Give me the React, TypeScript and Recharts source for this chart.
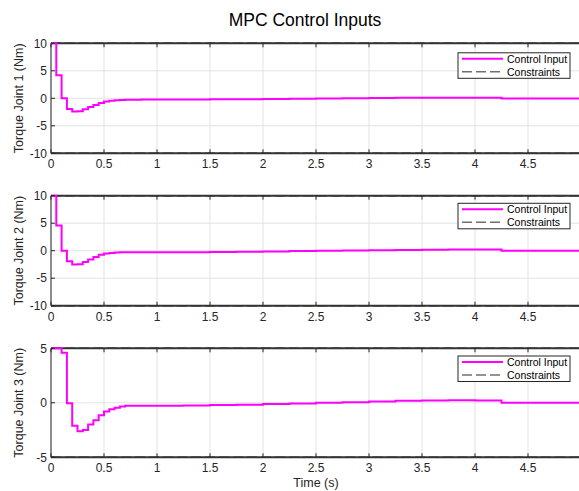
import React from 'react';
import { LineChart, Line, XAxis, YAxis, CartesianGrid, ReferenceLine } from 'recharts';

const TIME = [0, 0.05, 0.1, 0.15, 0.2, 0.25, 0.3, 0.35, 0.4, 0.45, 0.5, 0.55, 0.6, 0.65, 0.7, 0.75, 0.8, 0.85, 0.9, 0.95, 1.0, 1.25, 1.5, 1.75, 2.0, 2.25, 2.5, 2.75, 3.0, 3.25, 3.5, 3.75, 4.0, 4.25, 5.0];
const JOINT1 = [10, 4.2, 0, -1.95, -2.4, -2.35, -2.0, -1.6, -1.2, -0.85, -0.6, -0.45, -0.35, -0.3, -0.27, -0.25, -0.25, -0.24, -0.24, -0.23, -0.22, -0.2, -0.18, -0.15, -0.12, -0.08, -0.04, 0.0, 0.05, 0.09, 0.11, 0.12, 0.12, -0.02, -0.02];
const JOINT2 = [10, 4.6, 0, -1.9, -2.5, -2.45, -2.05, -1.6, -1.15, -0.75, -0.5, -0.4, -0.33, -0.3, -0.3, -0.3, -0.3, -0.3, -0.3, -0.3, -0.3, -0.27, -0.23, -0.18, -0.13, -0.07, -0.02, 0.04, 0.1, 0.15, 0.19, 0.21, 0.21, 0.0, 0.0];
const JOINT3 = [5, 5, 4.6, -0.05, -2.1, -2.6, -2.5, -2.0, -1.6, -1.15, -0.8, -0.6, -0.45, -0.33, -0.28, -0.26, -0.26, -0.26, -0.26, -0.26, -0.26, -0.24, -0.21, -0.17, -0.12, -0.06, 0.0, 0.06, 0.12, 0.18, 0.22, 0.23, 0.21, 0.0, 0.0];

const X_TICKS = [0, 0.5, 1, 1.5, 2, 2.5, 3, 3.5, 4, 4.5];
const Y_TICKS_10 = [-10, -5, 0, 5, 10];
const Y_TICKS_5 = [-5, 0, 5];
const LIMITS = [10, 10, 5];
const Y_LABELS = ['Torque Joint 1 (Nm)', 'Torque Joint 2 (Nm)', 'Torque Joint 3 (Nm)'];
const TITLE = 'MPC Control Inputs';
const X_LABEL = 'Time (s)';
const LEGEND_ITEMS = ['Control Input', 'Constraints'];

const FONT = '"Liberation Sans", Arial, Helvetica, sans-serif';
const AXIS = '#262626';
const BORDER = '#333333';
const W = 581;
const H = 491;

const PANELS = [
  { values: JOINT1, ticks: Y_TICKS_10, limit: LIMITS[0], top: 43.3, bottom: 153.3, legendTop: 52.8 },
  { values: JOINT2, ticks: Y_TICKS_10, limit: LIMITS[1], top: 195.7, bottom: 305.7, legendTop: 203.3 },
  { values: JOINT3, ticks: Y_TICKS_5, limit: LIMITS[2], top: 348.3, bottom: 457.3, legendTop: 356 },
];

function Panel({ values, ticks, limit, top, bottom }: any) {
  const data = TIME.map((t, i) => ({ t, u: values[i] }));
  const xAxisH = 30;
  const topAxisH = 1;
  return (
    <div style={{ position: 'absolute', left: 0, top: 0, width: W, height: H }}>
      <LineChart
        width={W}
        height={H}
        data={data}
        margin={{ top: top - topAxisH, right: 0, left: 0, bottom: H - bottom - xAxisH }}
      >
        <CartesianGrid stroke="#e3e3e3" strokeWidth={1} />
        <ReferenceLine y={limit} stroke={BORDER} strokeWidth={2} ifOverflow="visible" />
        <ReferenceLine y={limit} stroke={BORDER} strokeDasharray="10 4" strokeWidth={1.5} ifOverflow="visible" />
        <ReferenceLine y={-limit} stroke={BORDER} strokeDasharray="10 4" strokeWidth={1.5} ifOverflow="visible" />
        <XAxis
          dataKey="t"
          type="number"
          domain={[0, 5]}
          ticks={X_TICKS}
          height={xAxisH}
          tickSize={-4}
          tickMargin={10.5}
          axisLine={{ stroke: BORDER, strokeWidth: 2 }}
          tickLine={{ stroke: AXIS }}
          tick={{ fontSize: 12, fill: AXIS, fontFamily: FONT }}
          interval={0}
        />
        <XAxis
          xAxisId="top"
          orientation="top"
          dataKey="t"
          type="number"
          domain={[0, 5]}
          ticks={X_TICKS}
          height={topAxisH}
          tickSize={-4}
          tickFormatter={() => ''}
          axisLine={false}
          tickLine={{ stroke: AXIS }}
          interval={0}
        />
        <YAxis
          type="number"
          domain={[-limit, limit]}
          ticks={ticks}
          width={51}
          tickSize={-4}
          tickMargin={8}
          axisLine={{ stroke: AXIS, strokeWidth: 1 }}
          tickLine={{ stroke: AXIS }}
          tick={{ fontSize: 12, fill: AXIS, fontFamily: FONT }}
          interval={0}
        />
        <Line
          type="stepAfter"
          dataKey="u"
          stroke="#ff00ff"
          strokeWidth={2}
          dot={false}
          activeDot={false}
          isAnimationActive={false}
        />
      </LineChart>
    </div>
  );
}

function LegendBox({ y }: { y: number }) {
  const x = 458;
  return (
    <g>
      <rect x={x} y={y} width={112} height={25.5} fill="#ffffff" stroke={AXIS} strokeWidth={1} />
      <line x1={x + 4} x2={x + 45} y1={y + 6} y2={y + 6} stroke="#ff00ff" strokeWidth={2} />
      <text x={x + 49} y={y + 9.8} fontSize={10.5} fill="#000" fontFamily={FONT}>{LEGEND_ITEMS[0]}</text>
      <line x1={x + 4} x2={x + 45} y1={y + 19} y2={y + 19} stroke="#707070" strokeWidth={1.5} strokeDasharray="10 4" />
      <text x={x + 49} y={y + 22.8} fontSize={10.5} fill="#000" fontFamily={FONT}>{LEGEND_ITEMS[1]}</text>
    </g>
  );
}

export default function App() {
  return (
    <div style={{ position: 'absolute', left: 0, top: 0, width: 579, height: 491, overflow: 'hidden', background: '#ffffff' }}>
      {PANELS.map((p, i) => (
        <Panel key={i} {...p} />
      ))}
      <svg width={579} height={491} style={{ position: 'absolute', left: 0, top: 0, pointerEvents: 'none' }}>
        <text x={305} y={26} textAnchor="middle" fontSize={17.5} fill="#000" fontFamily={FONT}>{TITLE}</text>
        {PANELS.map((p, i) => (
          <text
            key={i}
            transform={`translate(22.5, ${(p.top + p.bottom) / 2}) rotate(-90)`}
            textAnchor="middle"
            fontSize={12.5}
            fill={AXIS}
            fontFamily={FONT}
          >
            {Y_LABELS[i]}
          </text>
        ))}
        <text x={316} y={487} textAnchor="middle" fontSize={12.5} fill={AXIS} fontFamily={FONT}>{X_LABEL}</text>
        {PANELS.map((p, i) => (
          <LegendBox key={i} y={p.legendTop} />
        ))}
      </svg>
    </div>
  );
}
